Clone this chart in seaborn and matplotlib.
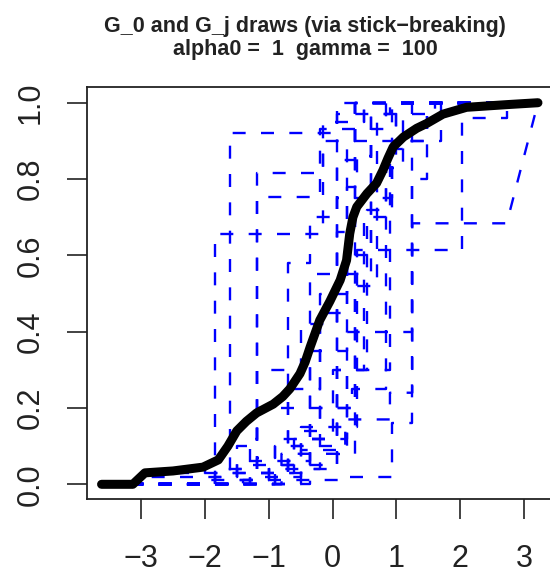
import numpy as np
import pandas as pd
import matplotlib
matplotlib.use("Agg")
import matplotlib.pyplot as plt
import seaborn as sns

# ---- data ----
title_line1 = "G_0 and G_j draws (via stick\u2212breaking)"
title_line2 = "alpha0 =  1  gamma =  100"

x_ticks = [-3, -2, -1, 0, 1, 2, 3]
y_ticks = [0.0, 0.2, 0.4, 0.6, 0.8, 1.0]
y_ticklabels = ["0.0", "0.2", "0.4", "0.6", "0.8", "1.0"]

x_start = -3.62
x_end = 3.22

# G_0 CDF (black)
g0_x = [-3.62, -3.13, -2.94, -2.50, -2.03, -1.79, -1.64, -1.50, -1.35, -1.19,
        -0.93, -0.78, -0.67, -0.51, -0.43, -0.35, -0.20, -0.04, 0.12, 0.22,
        0.27, 0.32, 0.38, 0.54, 0.69, 0.79, 0.87, 0.95, 1.11, 1.32,
        1.48, 1.73, 2.10, 2.73, 3.22]
g0_y = [0.0, 0.0, 0.03, 0.035, 0.045, 0.064, 0.10, 0.14, 0.165, 0.187,
        0.21, 0.23, 0.25, 0.29, 0.32, 0.36, 0.43, 0.48, 0.535, 0.587,
        0.657, 0.70, 0.727, 0.762, 0.789, 0.823, 0.855, 0.884, 0.91, 0.933,
        0.946, 0.97, 0.988, 0.995, 1.0]

# G_j draws: jump locations and CDF level after each jump
gj_jump_x = [
    [-2.9, -1.61, 0.07],
    [-2.0, -1.84, -0.15, 0.5],
    [-1.5, -1.19, -0.15, 0.35],
    [-1.84, -1.3, -1.19, -0.2, 0.5],
    [-1.3, -0.70, -0.35, 0.07, 0.9],
    [-0.8, 0.2, 0.9, 1.25, 2.73],
    [-0.5, 0.38, 2.03, 2.73],
    [-1.4, 0.1, 0.93, 1.25, 1.48],
    [-1.0, -0.35, 0.3, 0.84, 1.0],
    [-1.6, -0.6, 0.0, 0.9, 1.1],
    [-1.19, -0.35, 0.35],
    [-0.70, -0.2, 0.07, 0.35],
    [-2.9, -1.5, -0.9, 0.07, 0.6],
    [-1.84, -1.0, -0.5, 0.22, 1.25, 1.7],
    [-0.9, -0.35, 0.22, 0.6, 1.0],
    [-1.19, -0.5, 0.07, 0.35],
    [-1.84, -1.5, -1.19, -0.9, -0.5, -0.2, 0.22, 0.6],
    [-1.61, -1.19, -0.7, -0.35, 0.07, 0.5, 0.93],
    [-0.9, -0.5, 0.07, 0.22, 0.38, 0.6, 0.84],
    [-0.35, 0.07, 0.35, 0.6, 0.93, 1.25],
    [-1.3, -0.6, 0.22, 0.54, 0.84, 1.1, 1.48],
    [-2.0, -1.0, -0.2, 0.35, 0.7, 1.6],
]
gj_level = [
    [0.03, 0.92, 1.0],
    [0.05, 0.657, 0.95, 1.0],
    [0.10, 0.815, 0.90, 1.0],
    [0.04, 0.12, 0.753, 0.93, 1.0],
    [0.02, 0.58, 0.70, 0.97, 1.0],
    [0.08, 0.17, 0.24, 0.684, 0.684],
    [0.15, 0.613, 0.96, 1.0],
    [0.01, 0.02, 0.16, 0.80, 1.0],
    [0.05, 0.20, 0.25, 0.85, 1.0],
    [0.03, 0.10, 0.30, 0.88, 1.0],
    [0.20, 0.55, 1.0],
    [0.25, 0.45, 0.85, 1.0],
    [0.02, 0.06, 0.12, 0.75, 1.0],
    [0.03, 0.06, 0.09, 0.40, 0.90, 1.0],
    [0.03, 0.35, 0.60, 0.90, 1.0],
    [0.30, 0.42, 0.66, 1.0],
    [0.02, 0.04, 0.07, 0.10, 0.14, 0.50, 0.90, 1.0],
    [0.01, 0.03, 0.06, 0.12, 0.30, 0.70, 1.0],
    [0.02, 0.05, 0.45, 0.78, 0.86, 0.93, 1.0],
    [0.04, 0.08, 0.55, 0.75, 0.90, 1.0],
    [0.05, 0.12, 0.30, 0.72, 0.83, 0.90, 1.0],
    [0.01, 0.04, 0.20, 0.52, 0.97, 1.0],
]

# ---- build long-form table of the draws ----
rows = []
for j, (jx, jl) in enumerate(zip(gj_jump_x, gj_level)):
    prev = 0.0
    order = 0
    rows.append((j, order, x_start, 0.0)); order += 1
    for xv, lv in zip(jx, jl):
        rows.append((j, order, xv, prev)); order += 1
        rows.append((j, order, xv, lv)); order += 1
        prev = lv
    rows.append((j, order, x_end, 1.0))
draws = pd.DataFrame(rows, columns=["draw", "order", "x", "y"])
g0 = pd.DataFrame({"x": g0_x, "y": g0_y})

# ---- figure ----
sns.set_theme(style="white")
plt.rcParams["font.family"] = ["Liberation Sans", "DejaVu Sans"]

fig = plt.figure(figsize=(5.5, 5.79), dpi=100)
ax = fig.add_axes([87 / 550, 1 - 499 / 579, (555 - 87) / 550, (499 - 86.7) / 579])

sns.lineplot(data=draws, x="x", y="y", units="draw", estimator=None, sort=False,
             color="#0000ff", linewidth=1.7, linestyle=(0, (5.5, 6.5)), ax=ax,
             legend=False)
sns.lineplot(data=g0, x="x", y="y", estimator=None, sort=False,
             color="black", linewidth=6.5, ax=ax, legend=False,
             solid_capstyle="round", solid_joinstyle="round")

ax.set_xlim(-3.848, 3.487)
ax.set_ylim(-0.0385, 1.042)
ax.set_xlabel("")
ax.set_ylabel("")
ax.set_xticks(x_ticks)
ax.set_xticklabels([str(v).replace("-", "\u2212") for v in x_ticks])
ax.set_yticks(y_ticks)
ax.set_yticklabels(y_ticklabels, rotation=90, va="center")

for s in ax.spines.values():
    s.set_visible(True)
    s.set_color("#222222")
    s.set_linewidth(1.3)

ax.tick_params(axis="both", direction="out", length=14.5, width=1.2,
               color="#222222", labelcolor="#222222", labelsize=22,
               bottom=True, left=True)
ax.tick_params(axis="x", pad=18)
ax.tick_params(axis="y", pad=15)

fig.text(305 / 550, 1 - 32 / 579, title_line1, ha="center", va="baseline",
         fontsize=15.5, fontweight="bold", color="#222222")
fig.text(305 / 550, 1 - 55 / 579, title_line2, ha="center", va="baseline",
         fontsize=15.5, fontweight="bold", color="#222222")

fig.savefig("out.png", dpi=100)
